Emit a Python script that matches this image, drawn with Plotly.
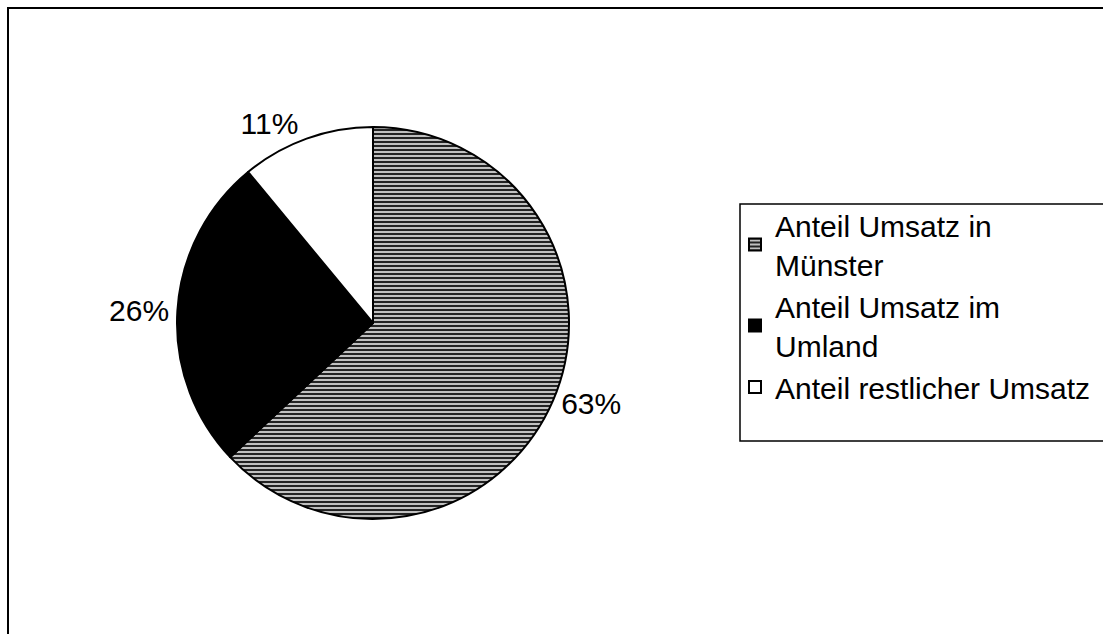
import plotly.graph_objects as go

W, H = 1103, 634

labels = ["Anteil Umsatz in<br>Münster", "Anteil Umsatz im<br>Umland", "Anteil restlicher Umsatz"]
values = [63, 26, 11]
fill_colors = ["#c0c0c0", "#000000", "#ffffff"]
pattern_shapes = ["-", "", ""]

FONT = "Arial, 'Liberation Sans', sans-serif"
FS = 30


def px_x(p):
    return p / W


def px_y(p):
    return 1 - p / H


fig = go.Figure(
    go.Pie(
        labels=labels,
        values=values,
        sort=False,
        direction="clockwise",
        rotation=0,
        textposition="outside",
        texttemplate="%{percent:.0%}",
        textfont=dict(family=FONT, size=FS, color="black"),
        marker=dict(
            colors=fill_colors,
            line=dict(color="black", width=2),
            pattern=dict(shape=pattern_shapes, fgcolor="#111111", bgcolor="#c0c0c0",
                         size=4, solidity=0.45),
        ),
        domain=dict(x=[px_x(177), px_x(569)], y=[px_y(519), px_y(127)]),
        hoverinfo="label+percent",
    )
)

fig.update_layout(
    width=W,
    height=H,
    margin=dict(l=0, r=0, t=0, b=0),
    paper_bgcolor="white",
    plot_bgcolor="white",
    font=dict(family=FONT, size=FS, color="black"),
    showlegend=True,
    legend=dict(
        x=px_x(735),
        y=px_y(199),
        xanchor="left",
        yanchor="top",
        bgcolor="rgba(0,0,0,0)",
        borderwidth=0,
        font=dict(family=FONT, size=FS, color="black"),
        tracegroupgap=0,
    ),
    shapes=[
        dict(type="rect", xref="paper", yref="paper",
             x0=px_x(8), x1=px_x(1120), y0=px_y(660), y1=px_y(8),
             line=dict(color="black", width=2), fillcolor="rgba(0,0,0,0)", layer="below"),
        dict(type="rect", xref="paper", yref="paper",
             x0=px_x(740), x1=px_x(1120), y0=px_y(441), y1=px_y(204),
             line=dict(color="black", width=1.5), fillcolor="rgba(0,0,0,0)", layer="below"),
    ],
)

fig.write_html("out.html")
